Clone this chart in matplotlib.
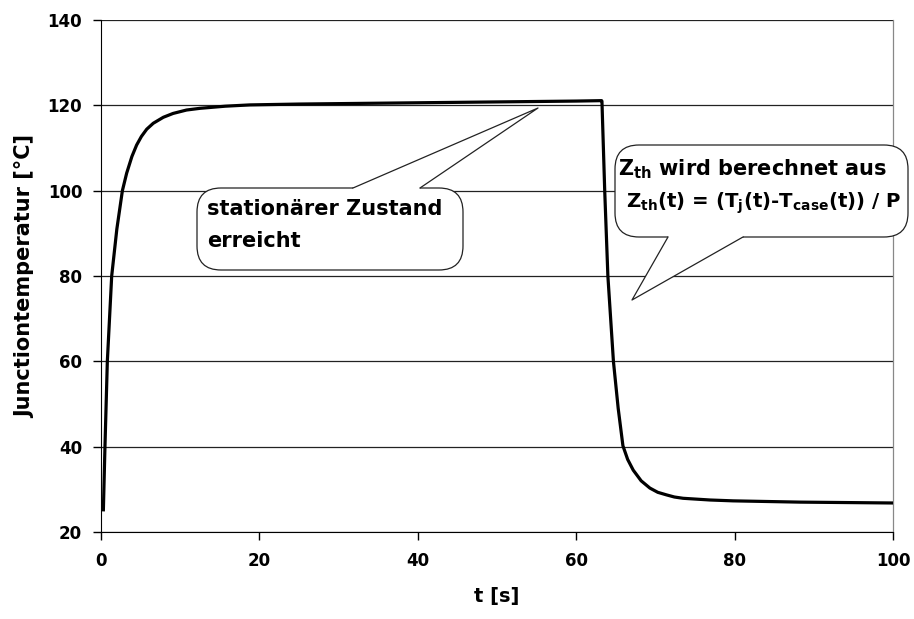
import matplotlib
matplotlib.use('Agg')
import matplotlib.pyplot as plt
from matplotlib.patches import FancyBboxPatch, Polygon
from matplotlib.transforms import Affine2D

plt.rcParams['font.family'] = 'DejaVu Sans'
plt.rcParams['font.weight'] = 'bold'
plt.rcParams['mathtext.fontset'] = 'custom'
plt.rcParams['mathtext.rm'] = 'DejaVu Sans:bold'
plt.rcParams['mathtext.bf'] = 'DejaVu Sans:bold'
plt.rcParams['mathtext.it'] = 'DejaVu Sans:bold'

# heating phase, then cooling phase (t in s, T in degC)
t_heat = [0.3, 0.5, 0.8, 1.35, 2.0, 2.7, 3.24, 3.9, 4.5, 5.1, 5.77, 6.6, 7.87,
          9.1, 10.8, 12.5, 15.7, 18.8, 25, 30, 40, 50, 60, 63.2]
T_heat = [25.2, 40, 60, 80, 91, 100, 104.1, 108, 110.7, 112.7, 114.4, 115.8,
          117.2, 118.1, 118.9, 119.3, 119.8, 120.1, 120.3, 120.4, 120.6, 120.8,
          121.0, 121.1]
t_cool = [63.25, 63.6, 64.0, 64.7, 65.3, 65.9, 66.5, 67.2, 68.2, 69.3, 70.3,
          71.4, 72.4, 73.5, 76.9, 79.8, 88.3, 100]
T_cool = [121.0, 100, 80, 60, 49, 40.2, 37.0, 34.5, 32.0, 30.3, 29.3,
          28.7, 28.2, 27.9, 27.5, 27.3, 27.0, 26.8]

x_ticks = [0, 20, 40, 60, 80, 100]
y_ticks = [20, 40, 60, 80, 100, 120, 140]

W, H = 914, 619
fig = plt.figure(figsize=(W / 100, H / 100), dpi=100)
ax = fig.add_axes([101 / W, 1 - 532 / H, 792 / W, 512 / H])

ax.plot(t_heat + t_cool, T_heat + T_cool, c='black', lw=2.3,
        solid_joinstyle='round', zorder=3)

ax.set_xlim(0, 100)
ax.set_ylim(20, 140)
ax.set_xticks(x_ticks)
ax.set_yticks(y_ticks)
ax.tick_params(direction='out', length=5.5, width=1, labelsize=12)
ax.tick_params(axis='x', pad=9)
ax.tick_params(axis='y', pad=8)
ax.yaxis.grid(True, color='#222222', lw=0.9)
ax.set_axisbelow(True)
ax.spines['right'].set_color('#888888')
ax.spines['right'].set_linewidth(0.9)
ax.spines['top'].set_visible(False)
ax.set_xlabel('t [s]', fontsize=14, fontweight='bold', labelpad=12)
ax.set_ylabel('Junctiontemperatur [°C]', fontsize=15, fontweight='bold',
              labelpad=9)

# callouts, drawn in image pixel coordinates (y downwards)
pix = Affine2D().scale(1 / W, -1 / H).translate(0, 1) + fig.transFigure


def callout(x0, y0, x1, y1, base, tip, lines, xs, ys, sizes):
    box = FancyBboxPatch((x0, y0), x1 - x0, y1 - y0,
                         boxstyle='round,pad=0,rounding_size=24',
                         fc='white', ec='#222222', lw=0.9, transform=pix,
                         zorder=5, clip_on=False)
    fig.add_artist(box)
    (bx1, by), (bx2, _) = base
    d = 3 if by == y0 else -3
    wedge = Polygon([(bx1, by + d), (bx1, by), tip, (bx2, by), (bx2, by + d)],
                    closed=True, fc='white', ec='none', transform=pix,
                    zorder=6, clip_on=False)
    fig.add_artist(wedge)
    fig.add_artist(plt.Line2D([bx1, tip[0], bx2], [by, tip[1], by],
                              color='#222222', lw=0.9, transform=pix,
                              zorder=7))
    for txt, xx, yy, fs in zip(lines, xs, ys, sizes):
        fig.text(xx, yy, txt, transform=pix, fontsize=fs, fontweight='bold',
                 va='baseline', ha='left', zorder=8)


callout(197, 188, 463, 270, [(353, 188), (420, 188)], (538, 108),
        ['stationärer Zustand', 'erreicht'], [207, 207], [215, 247], [15, 15])
callout(615, 145, 908, 237, [(668, 237), (743, 237)], (632, 300),
        [r'Z$_{\rm th}$ wird berechnet aus',
         r'Z$_{\rm th}$(t) = (T$_{\rm j}$(t)-T$_{\rm case}$(t)) / P'],
        [618, 626], [175, 208], [15, 14.2])

fig.savefig('out.png', dpi=100)
